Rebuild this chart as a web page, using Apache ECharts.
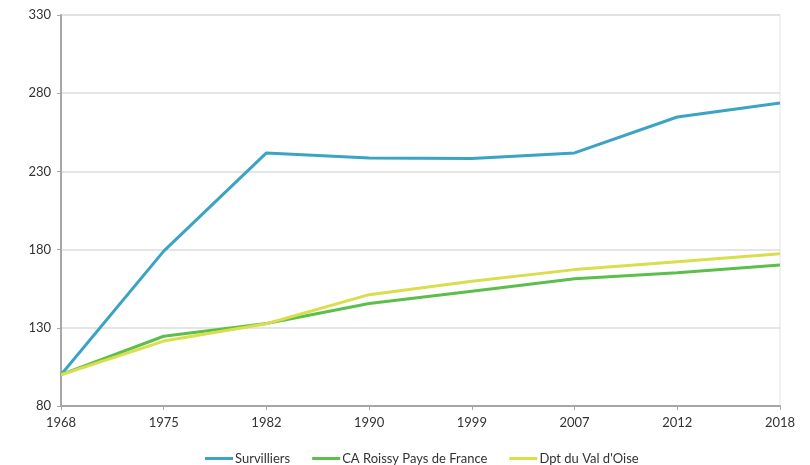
<!DOCTYPE html>
<html>
<head>
<meta charset="utf-8">
<script src="https://cdn.jsdelivr.net/npm/echarts@6/dist/echarts.min.js"></script>
<style>html,body{margin:0;padding:0;background:#fff}#c{width:810px;height:465px}</style>
</head>
<body>
<div id="c"></div>
<script>
const years = ['1968','1975','1982','1990','1999','2007','2012','2018'];
const survilliers = [100, 179, 241.8, 238.6, 238.3, 241.8, 264.8, 273.7];
const roissy = [100, 124.6, 132.8, 145.5, 153.4, 161.3, 165.2, 170.2];
const valdoise = [100, 121.5, 132.6, 151.2, 159.7, 167.2, 172.3, 177.4];
const seriesNames = ['Survilliers', 'CA Roissy Pays de France', "Dpt du Val d'Oise"];
const colors = ['#3ba3c3', '#5cbf4a', '#d9de4c'];

const chart = echarts.init(document.getElementById('c'));
const font = 'Lato, "Open Sans", sans-serif';
chart.setOption({
  animation: false,
  color: colors,
  grid: {left: 61, right: 30, top: 15, bottom: 59, show: true, borderColor: '#e3e3e3', borderWidth: 1},
  legend: {
    top: 447, left: 200, itemWidth: 28, itemHeight: 3, itemGap: 22,
    icon: 'rect',
    textStyle: {fontFamily: font, fontSize: 13, color: '#333', padding: [0,0,0,-3]},
    data: seriesNames
  },
  xAxis: {
    type: 'category', data: years, boundaryGap: false,
    axisLine: {lineStyle: {color: '#a6a6a6', width: 2}},
    axisTick: {show: true, alignWithLabel: true, length: 4, lineStyle: {color: '#a6a6a6'}},
    axisLabel: {fontFamily: font, fontSize: 13, color: '#333', margin: 10},
    splitLine: {show: false}
  },
  yAxis: {
    type: 'value', min: 80, max: 330, interval: 50,
    axisLine: {show: true, lineStyle: {color: '#a6a6a6', width: 2}},
    axisTick: {show: true, length: 4, lineStyle: {color: '#a6a6a6'}},
    axisLabel: {fontFamily: font, fontSize: 13, color: '#333', margin: 10},
    splitLine: {lineStyle: {color: '#dcdcdc', width: 1.5}}
  },
  series: [
    {name: seriesNames[0], type: 'line', data: survilliers, symbol: 'none', lineStyle: {width: 3}},
    {name: seriesNames[1], type: 'line', data: roissy, symbol: 'none', lineStyle: {width: 3}},
    {name: seriesNames[2], type: 'line', data: valdoise, symbol: 'none', lineStyle: {width: 3}}
  ]
});
</script>
</body>
</html>
